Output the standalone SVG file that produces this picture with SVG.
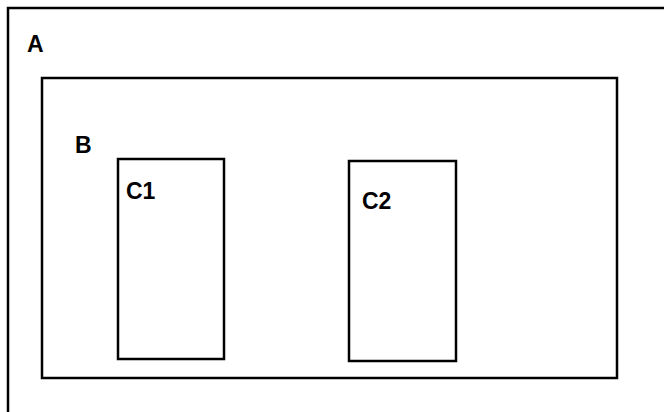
<svg xmlns="http://www.w3.org/2000/svg" width="664" height="412" viewBox="0 0 664 412">
<style>
.box{fill:none;stroke:#000;stroke-width:2.5}
.lbl{font-family:"Liberation Sans",Arial,sans-serif;font-weight:bold;font-size:23px;fill:#000}
</style>
<rect width="664" height="412" fill="#fff"/>
<g id="A">
<rect class="box" x="8" y="8" width="670" height="420"/>
<text class="lbl" x="27" y="52">A</text>
</g>
<g id="B">
<rect class="box" x="42" y="78" width="575" height="300"/>
<text class="lbl" x="75" y="153">B</text>
</g>
<g id="C1">
<rect class="box" x="118" y="159" width="106" height="200"/>
<text class="lbl" x="126" y="199">C1</text>
</g>
<g id="C2">
<rect class="box" x="349" y="161" width="107" height="200"/>
<text class="lbl" x="362" y="209">C2</text>
</g>
<g id="connectors"></g>
</svg>
